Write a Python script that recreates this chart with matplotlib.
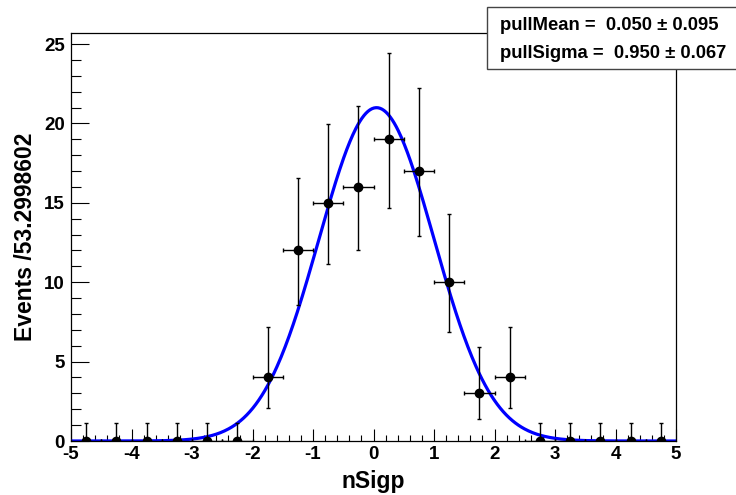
import numpy as np
import matplotlib.pyplot as plt
from matplotlib.ticker import MultipleLocator

plt.rcParams['font.family'] = ['Liberation Sans', 'DejaVu Sans']
plt.rcParams['font.weight'] = 'bold'
plt.rcParams['axes.unicode_minus'] = False

# --- data (bins of width 0.5) ---
bin_centers = [-4.75, -4.25, -3.75, -3.25, -2.75, -2.25, -1.75, -1.25, -0.75, -0.25,
               0.25, 0.75, 1.25, 1.75, 2.25, 2.75, 3.25, 3.75, 4.25, 4.75]
counts = [0, 0, 0, 0, 0, 0, 4, 12, 15, 16, 19, 17, 10, 3, 4, 0, 0, 0, 0, 0]
err_low = [0, 0, 0, 0, 0, 0, 1.91, 3.41, 3.83, 3.96, 4.34, 4.09, 3.11, 1.63, 1.91, 0, 0, 0, 0, 0]
err_high = [1.15, 1.15, 1.15, 1.15, 1.15, 1.15, 3.16, 4.56, 4.95, 5.08, 5.45, 5.21, 4.27, 2.92, 3.16,
            1.15, 1.15, 1.15, 1.15, 1.15]
bin_width = 0.5

# fit result
pull_mean, pull_mean_err = 0.050, 0.095
pull_sigma, pull_sigma_err = 0.950, 0.067
n_events = 100

fig = plt.figure(figsize=(7.36, 4.95), dpi=100)
ax = fig.add_axes([71/736, 1 - 441/495, (676 - 71)/736, (441 - 33)/495])

# curve from fit parameters
xs = np.linspace(-5, 5, 600)
ys = n_events * bin_width / (pull_sigma * np.sqrt(2 * np.pi)) * np.exp(-0.5 * ((xs - pull_mean) / pull_sigma) ** 2)
ax.plot(xs, ys, color='#0000ff', lw=2.3, zorder=3)

ax.errorbar(bin_centers, counts, yerr=[err_low, err_high], xerr=bin_width / 2,
            fmt='o', color='black', ms=6, elinewidth=1, capsize=1.5, capthick=1, zorder=4)

ax.set_xlim(-5, 5)
ax.set_ylim(0, 25.7)
ax.xaxis.set_major_locator(MultipleLocator(1))
ax.xaxis.set_minor_locator(MultipleLocator(0.2))
ax.yaxis.set_major_locator(MultipleLocator(5))
ax.yaxis.set_minor_locator(MultipleLocator(1))
ax.tick_params(axis='x', which='major', direction='in', length=8.6, width=0.8, labelsize=13.5, pad=3.5)
ax.tick_params(axis='x', which='minor', direction='in', length=4.3, width=0.8)
ax.tick_params(axis='y', which='major', direction='in', length=12.7, width=0.8, labelsize=13.5, pad=4.5)
ax.tick_params(axis='y', which='minor', direction='in', length=7, width=0.8)
for lab in ax.get_xticklabels() + ax.get_yticklabels():
    lab.set_fontweight('bold')
for s in ax.spines.values():
    s.set_linewidth(0.9)

ax.set_xlabel('nSigp', fontsize=16.5, fontweight='bold', labelpad=5)
ax.set_ylabel('Events /53.2998602', fontsize=16.5, fontweight='bold', labelpad=5)

# stat box
box = plt.Rectangle((487/736, 1 - 69/495), (740 - 487)/736, (69 - 7)/495, transform=fig.transFigure,
                    facecolor='white', edgecolor='#444444', lw=1, zorder=10)
fig.patches.append(box)
fig.text(500/736, 1 - 25/495, f'pullMean =  {pull_mean:.3f} \u00b1 {pull_mean_err:.3f}',
         fontsize=13.3, fontweight='bold', va='center', ha='left', zorder=11)
fig.text(500/736, 1 - 54/495, f'pullSigma =  {pull_sigma:.3f} \u00b1 {pull_sigma_err:.3f}',
         fontsize=13.3, fontweight='bold', va='center', ha='left', zorder=11)

fig.savefig('out.png', dpi=100)
